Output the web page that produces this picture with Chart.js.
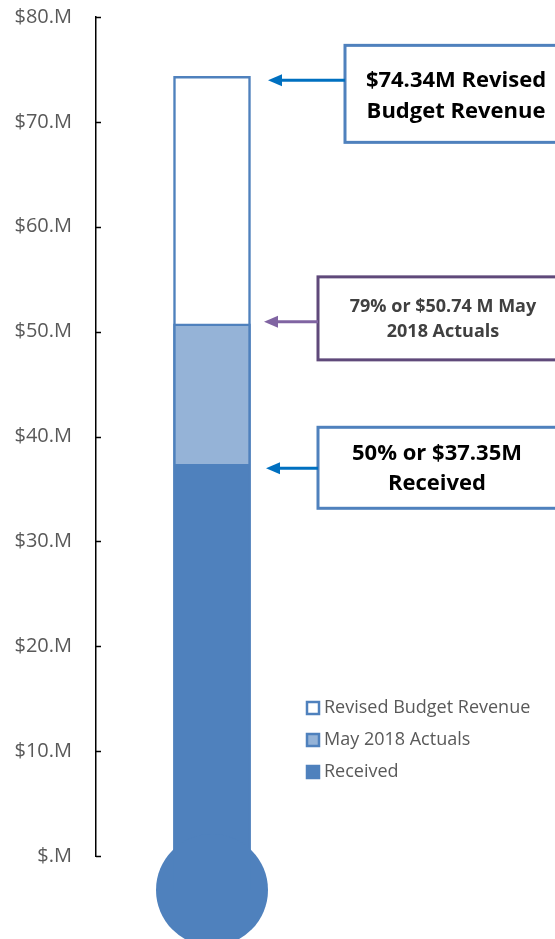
<!DOCTYPE html>
<html>
<head>
<meta charset="utf-8">
<script src="https://cdn.jsdelivr.net/npm/chart.js@4"></script>
<style>
  body { margin: 0; background: #fff; }
  canvas { display: block; }
</style>
</head>
<body>
<canvas id="thermo" width="555" height="939"></canvas>
<script>
// values in $ millions
const categories = ['Revenue'];
const seriesLabels = ['Revised Budget Revenue', 'May 2018 Actuals', 'Received'];
const revisedBudget = [74.34];
const mayActuals = [50.74];
const received = [37.35];
const yTickValues = [0, 10, 20, 30, 40, 50, 60, 70, 80];

const calloutLines = [
  ['$74.34M Revised', 'Budget Revenue'],
  ['79% or $50.74 M May', '2018 Actuals'],
  ['50% or $37.35M', 'Received']
];
const calloutValues = [revisedBudget[0], mayActuals[0], received[0]];

const blue = '#4F81BD';
const lightBlue = '#95B3D7';

// callout look (box relative to the value it points at)
const callouts = [
  { box: [345, -31, 230, 97], arrowY: 4, tipX: 268, boxColor: '#4F81BD', arrowColor: '#0070C0',
    font: 'bold 22px "Open Sans"', color: '#000', textX: 456, lineY: [4, 35] },
  { box: [318, -47, 240, 83], arrowY: -2, tipX: 264, boxColor: '#5F497A', arrowColor: '#8064A2',
    font: 'bold 18px "Open Sans"', color: '#404040', textX: 443, lineY: [-17, 8] },
  { box: [318, -37, 240, 81], arrowY: 4, tipX: 266, boxColor: '#4F81BD', arrowColor: '#0070C0',
    font: 'bold 22px "Open Sans"', color: '#000', textX: 437, lineY: [-11, 19] }
];

const extras = {
  id: 'extras',
  afterDraw(chart) {
    const ctx = chart.ctx;
    const x = chart.scales.x, y = chart.scales.y;
    const cx = x.getPixelForValue(0);
    const y0 = y.getPixelForValue(0);

    // bulb
    ctx.save();
    ctx.fillStyle = blue;
    ctx.beginPath();
    ctx.arc(cx, y0 + 34, 56, 0, Math.PI * 2);
    ctx.fill();
    ctx.fillRect(cx - 38.5, y0 - 2, 77, 36);

    // inward tick marks
    ctx.strokeStyle = '#000';
    ctx.lineWidth = 1.5;
    yTickValues.forEach(v => {
      const py = Math.round(y.getPixelForValue(v)) + 0.5;
      ctx.beginPath();
      ctx.moveTo(chart.chartArea.left, py);
      ctx.lineTo(chart.chartArea.left + 5, py);
      ctx.stroke();
    });

    // callouts
    callouts.forEach((c, i) => {
      const vy = y.getPixelForValue(calloutValues[i]);
      const [bx, by, bw, bh] = c.box;
      ctx.fillStyle = '#fff';
      ctx.fillRect(bx, vy + by, bw, bh);
      ctx.strokeStyle = c.boxColor;
      ctx.lineWidth = 3;
      ctx.strokeRect(bx, vy + by, bw, bh);

      const ay = vy + c.arrowY;
      ctx.strokeStyle = c.arrowColor;
      ctx.fillStyle = c.arrowColor;
      ctx.lineWidth = 3;
      ctx.beginPath();
      ctx.moveTo(bx, ay);
      ctx.lineTo(c.tipX + 10, ay);
      ctx.stroke();
      ctx.beginPath();
      ctx.moveTo(c.tipX, ay);
      ctx.lineTo(c.tipX + 14, ay - 6);
      ctx.lineTo(c.tipX + 14, ay + 6);
      ctx.closePath();
      ctx.fill();

      ctx.fillStyle = c.color;
      ctx.font = c.font;
      ctx.textAlign = 'center';
      ctx.textBaseline = 'middle';
      calloutLines[i].forEach((t, k) => ctx.fillText(t, c.textX, vy + c.lineY[k]));
    });

    // legend
    const swatches = [
      { fill: '#fff', border: blue },
      { fill: lightBlue, border: blue },
      { fill: blue, border: blue }
    ];
    ctx.font = '18px "Open Sans"';
    ctx.textAlign = 'left';
    ctx.textBaseline = 'middle';
    seriesLabels.forEach((lab, i) => {
      const ly = 708 + i * 32;
      ctx.fillStyle = swatches[i].fill;
      ctx.fillRect(307, ly - 6, 12, 12);
      ctx.strokeStyle = swatches[i].border;
      ctx.lineWidth = 2.5;
      ctx.strokeRect(307, ly - 6, 12, 12);
      ctx.fillStyle = '#595959';
      ctx.fillText(lab, 324, ly);
    });
    ctx.restore();
  }
};

new Chart(document.getElementById('thermo'), {
  type: 'bar',
  data: {
    labels: categories,
    datasets: [
      { label: seriesLabels[2], data: received.map(v => [0, v]),
        backgroundColor: blue, borderColor: blue, borderWidth: 2.5, grouped: false },
      { label: seriesLabels[1], data: mayActuals.map((v, i) => [received[i], v]),
        backgroundColor: lightBlue, borderColor: blue, borderWidth: 2.5, grouped: false },
      { label: seriesLabels[0], data: revisedBudget.map(v => [0, v]),
        backgroundColor: '#fff', borderColor: blue, borderWidth: 2.5, grouped: false }
    ]
  },
  options: {
    responsive: false,
    animation: false,
    barThickness: 77,
    layout: { padding: { top: 0, right: 227, bottom: 83, left: 0 } },
    plugins: { legend: { display: false }, tooltip: { enabled: false } },
    scales: {
      x: { display: false },
      y: {
        min: 0, max: 80,
        afterFit(scale) {
          scale.width = 96;
          scale.paddingTop = 17;
          scale.paddingBottom = 0;
        },
        afterBuildTicks(scale) { scale.ticks = yTickValues.map(v => ({ value: v })); },
        grid: { display: false, drawTicks: false },
        border: { display: true, color: '#000', width: 1.5 },
        ticks: {
          padding: 24,
          color: '#595959',
          font: { family: 'Open Sans', size: 20 },
          callback: v => v === 0 ? '$.M' : '$' + v + '.M'
        }
      }
    }
  },
  plugins: [extras]
});
</script>
</body>
</html>
